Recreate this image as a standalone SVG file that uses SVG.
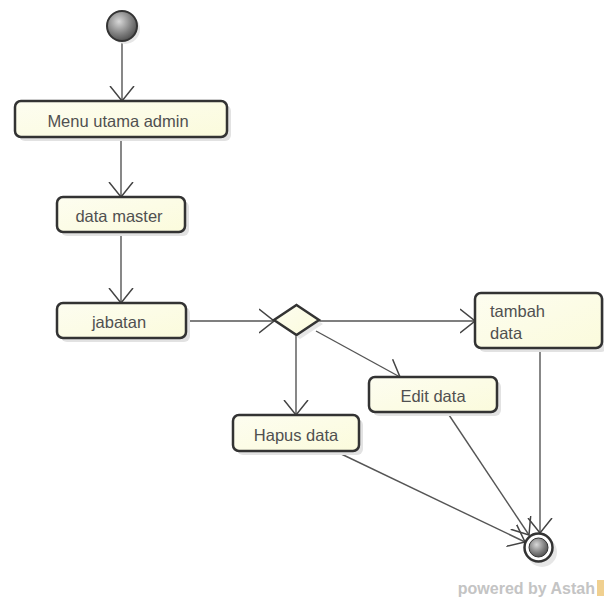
<svg xmlns="http://www.w3.org/2000/svg" width="604" height="601" viewBox="0 0 604 601">
<defs>
<radialGradient id="ball" cx="0.4" cy="0.35" r="0.7">
<stop offset="0" stop-color="#d8d8d8"/>
<stop offset="0.6" stop-color="#808080"/>
<stop offset="1" stop-color="#4a4a4a"/>
</radialGradient>
<linearGradient id="fill" x1="0" y1="0" x2="1" y2="1">
<stop offset="0" stop-color="#fdfdf0"/>
<stop offset="1" stop-color="#fbfbdc"/>
</linearGradient>
<marker id="arr" markerWidth="16" markerHeight="26" refX="15" refY="13" orient="auto" markerUnits="userSpaceOnUse">
<path d="M0,1 L15,13 L0,25" fill="none" stroke="#444" stroke-width="1.5"/>
</marker>
</defs>
<style>
.box{fill:url(#fill);stroke:#333;stroke-width:2.5}
.sh{fill:#e2e2e2}
.t{font-family:"Liberation Sans",Arial,sans-serif;font-size:16.5px;fill:#505050}
.c{text-anchor:middle}
.e{fill:none;stroke:#555;stroke-width:1.4;marker-end:url(#arr)}
</style>
<rect width="604" height="601" fill="#ffffff"/>
<g id="connectors">
<line class="e" x1="122" y1="41" x2="122" y2="101"/>
<line class="e" x1="121" y1="137" x2="121" y2="197"/>
<line class="e" x1="121" y1="232" x2="121" y2="303"/>
<line class="e" x1="186" y1="321" x2="274" y2="321"/>
<line class="e" x1="319" y1="321" x2="475" y2="321"/>
<line class="e" x1="316" y1="331" x2="400" y2="377"/>
<line class="e" x1="296" y1="335" x2="296" y2="415"/>
<line class="e" x1="540" y1="348" x2="540" y2="533"/>
<line class="e" x1="447" y1="412" x2="529" y2="535"/>
<line class="e" x1="335" y1="451" x2="525" y2="542"/>
</g>
<g id="start">
<circle cx="125" cy="29" r="15" fill="#e6e6e6"/>
<circle cx="122" cy="26" r="15" fill="url(#ball)" stroke="#333" stroke-width="2"/>
</g>
<g id="menu">
<rect class="sh" x="19" y="105" width="212" height="36" rx="6"/>
<rect class="box" x="15" y="101" width="212" height="36" rx="6"/>
<text class="t c" x="118" y="127">Menu utama admin</text>
</g>
<g id="datamaster">
<rect class="sh" x="61" y="201" width="128" height="35" rx="6"/>
<rect class="box" x="57" y="197" width="128" height="35" rx="6"/>
<text class="t c" x="119" y="222">data master</text>
</g>
<g id="jabatan">
<rect class="sh" x="61" y="307" width="129" height="35" rx="6"/>
<rect class="box" x="57" y="303" width="129" height="35" rx="6"/>
<text class="t c" x="119" y="328">jabatan</text>
</g>
<g id="decision">
<polygon points="300,309 323,324 300,339 278,324" fill="#e6e6e6"/>
<polygon points="296.5,305 319,320 296.5,335 274,320" fill="url(#fill)" stroke="#333" stroke-width="2.5"/>
</g>
<g id="tambah">
<rect class="sh" x="479" y="297" width="128" height="55" rx="6"/>
<rect class="box" x="475" y="293" width="127" height="55" rx="6"/>
<text class="t" x="490" y="317">tambah</text>
<text class="t" x="490" y="339">data</text>
</g>
<g id="edit">
<rect class="sh" x="373" y="381" width="128" height="35" rx="6"/>
<rect class="box" x="369" y="377" width="128" height="35" rx="6"/>
<text class="t c" x="433" y="402">Edit data</text>
</g>
<g id="hapus">
<rect class="sh" x="237" y="419" width="126" height="36" rx="6"/>
<rect class="box" x="233" y="415" width="126" height="36" rx="6"/>
<text class="t c" x="296" y="441">Hapus data</text>
</g>
<g id="end">
<circle cx="542" cy="552" r="15" fill="#e6e6e6"/>
<circle cx="538.5" cy="547.5" r="14" fill="#ffffff" stroke="#333" stroke-width="2.5"/>
<circle cx="538.5" cy="547.5" r="9.5" fill="url(#ball)" stroke="#333" stroke-width="1"/>
</g>
<g id="footer">
<text x="595" y="594" text-anchor="end" font-family="'Liberation Sans',Arial,sans-serif" font-size="16" font-weight="bold" fill="#c4c4c4">powered by Astah</text>
<rect x="597" y="580" width="7" height="16" fill="#f0d090"/>
</g>
</svg>
